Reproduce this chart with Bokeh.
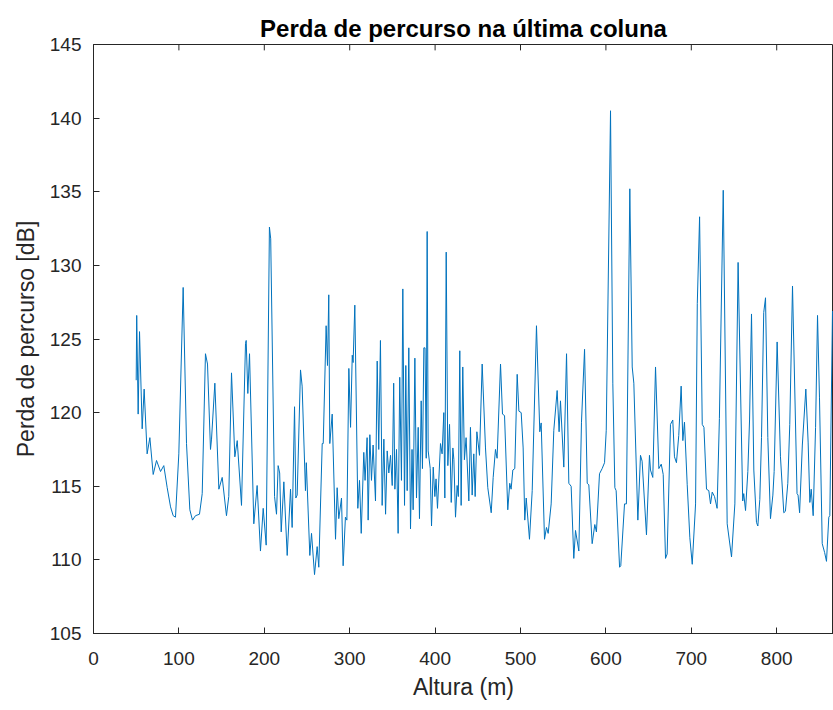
from bokeh.plotting import figure
from bokeh.models import Range1d, FixedTicker, Title
from bokeh.embed import file_html
from bokeh.resources import INLINE

altura = [50, 50.6, 52.3, 53.9, 57, 59.3, 62.8, 66, 69.9, 73.8, 78.5, 82.3, 86.3, 90.2, 93.3, 96,
          99.9, 105, 108.9, 112.8, 115.9, 119.4, 124.1, 127.3, 131.1, 133.5, 137, 138.2, 142.1, 146.8,
          150.7, 155.7, 158.4, 161.6, 165.5, 168.3, 173.3, 178, 178.8, 180.7, 182.7, 187.7, 191.6, 195.5,
          198.7, 202.2, 206, 207.5, 212, 214.3, 216.2, 218, 219.8, 222.9, 226.8, 230.7, 232.6, 235.4,
          236.9, 238.5, 242.4, 244.3, 248.2, 249.2, 253.3, 255.3, 258.8, 261.9, 263.8, 267.8, 269,
          272.4, 274, 275.5, 276.7, 279.5, 283.4, 285.3, 287.2, 290.4, 292.3, 295, 296.7, 299, 301, 303,
          304, 306, 309.5, 311.5, 313.5, 316.5, 318, 320.4, 321.6, 323.6, 325.5, 327.4, 330.2, 332.2,
          334, 336, 338, 340, 342, 343.9, 345.8, 347.8, 349.8, 351.5, 352.9, 354.8, 356.7, 358.6, 360.6,
          362.2, 364.2, 365.7, 367.3, 369.2, 371.2, 373, 374.3, 376.3, 378.2, 380.2, 381.7, 383.7, 385.2,
          386.8, 388.2, 389.6, 390.7, 391.9, 394.3, 395.8, 397.8, 399.7, 401.1, 402.8, 406.3, 408.2,
          410.2, 411.4, 413, 414.9, 416.9, 418.9, 420.8, 422, 423.9, 425.8, 427.2, 428.9, 430.5, 432.4,
          434.3, 436.3, 439.5, 441.4, 443.4, 445.3, 446.9, 448.9, 452, 455.1, 459, 461.7, 465.7, 468,
          470.7, 472.6, 476.6, 478.9, 481.3, 485.1, 487.4, 489, 491, 493.3, 496.1, 498.1, 500.8, 503.1,
          505, 506.7, 510.5, 513.7, 518.7, 522.6, 524.2, 528.1, 530.4, 532.4, 535.9, 539, 542.9, 545.2,
          546.8, 550.7, 553.9, 556.6, 559.3, 562.4, 564.4, 568.3, 571.4, 575, 578.1, 580, 583.9, 587,
          588.9, 592.5, 595.6, 598.4, 600.4, 605.4, 608.1, 610.5, 612, 616, 617.4, 621.8, 624, 628,
          630.8, 632.7, 637.4, 640.5, 642.4, 647.5, 651, 652.2, 654.9, 658.1, 662, 664.8, 667.1, 669.8,
          671.7, 675.6, 678.3, 680.3, 682.6, 685.3, 688.1, 690.1, 692, 695.2, 698.3, 701.1, 705, 707,
          709.7, 712.8, 714.8, 717.8, 720.5, 722.5, 724.5, 727.2, 730.2, 732.9, 737.4, 742, 747.1, 751,
          754.8, 760.2, 761.4, 763.5, 766.2, 768.2, 770.5, 773.2, 776.3, 777.9, 780.2, 782.2, 784.8,
          786.9, 789.6, 792.7, 795.5, 797, 800.5, 804.4, 808.3, 810.2, 813, 815.3, 818.5, 823.8, 825,
          826.8, 830, 834.1, 836.8, 838.8, 840.4, 842.7, 845.5, 847.8, 850.1, 853.3, 856.1, 858.3, 861,
          862.2, 865.3]

perda = [122.2, 126.6, 119.9, 125.5, 118.9, 121.6, 117.2, 118.3, 115.8, 116.75, 116.0, 116.4, 114.9,
         113.6, 113.0, 112.9, 117.2, 128.5, 117.9, 113.4, 112.7, 113.0, 113.1, 114.5, 124.0, 123.3,
         117.5, 118.2, 122.0, 114.8, 115.6, 113.0, 114.3, 122.7, 117.0, 118.1, 113.7, 124.7, 124.9,
         121.3, 124.0, 112.45, 115.05, 110.6, 113.5, 111.0, 132.6, 131.8, 114.3, 113.1, 116.4, 115.9,
         111.9, 115.3, 110.3, 114.8, 112.2, 120.4, 114.2, 114.4, 122.9, 121.8, 114.7, 116.6, 110.3,
         111.8, 109.0, 110.9, 109.5, 117.9, 117.9, 125.9, 123.2, 128.0, 117.9, 119.9, 111.4, 114.9,
         112.8, 114.2, 109.6, 112.9, 112.7, 123.0, 119.0, 123.9, 123.4, 127.3, 113.5, 115.4, 111.8,
         117.3, 115.4, 118.3, 112.7, 118.5, 115.4, 117.8, 114.0, 123.5, 117.5, 124.9, 113.7, 118.2,
         113.1, 117.4, 115.9, 117.1, 115.05, 122.0, 114.8, 117.5, 111.8, 122.4, 115.4, 128.4, 113.7,
         123.2, 114.7, 124.4, 112.1, 117.5, 113.4, 123.7, 114.2, 119.0, 112.8, 120.8, 116.2, 124.4,
         124.4, 116.9, 132.3, 117.4, 116.2, 112.3, 116.3, 114.3, 115.5, 113.5, 117.9, 117.2, 120.0,
         114.2, 130.9, 116.4, 119.2, 113.9, 117.6, 116.8, 112.9, 115.05, 114.3, 124.2, 113.7, 123.1,
         116.8, 118.3, 114.0, 119.0, 114.4, 117.2, 114.3, 118.7, 117.1, 123.3, 117.6, 114.9, 113.2,
         115.6, 117.5, 116.9, 123.3, 119.9, 119.8, 113.4, 115.2, 114.8, 116.1, 116.2, 122.6, 120.1,
         120.0, 117.6, 112.7, 114.2, 111.4, 114.7, 125.9, 118.7, 119.3, 111.4, 112.2, 111.8, 113.8,
         118.8, 121.5, 118.7, 120.8, 116.3, 124.0, 115.2, 115.0, 110.1, 112.0, 110.6, 119.35, 124.3,
         115.2, 115.1, 111.1, 112.4, 111.9, 115.85, 116.2, 116.6, 118.8, 140.5, 122.0, 114.9, 114.7,
         109.5, 109.6, 113.8, 113.8, 135.2, 123.1, 122.0, 112.7, 117.1, 116.7, 111.7, 117.1, 116.1,
         115.6, 123.1, 116.2, 116.5, 115.8, 110.1, 110.4, 119.2, 119.5, 117.0, 116.6, 118.45, 121.8,
         118.1, 119.35, 115.1, 111.5, 109.7, 113.8, 127.4, 133.3, 119.2, 119.0, 114.8, 114.7, 113.8,
         114.6, 114.3, 113.5, 119.6, 135.1, 112.45, 110.2, 113.8, 130.2, 114.0, 114.5, 113.35, 116.0,
         119.5, 126.7, 116.1, 112.55, 112.3, 114.1, 118.3, 126.8, 127.8, 118.3, 112.8, 114.4, 116.0,
         124.8, 117.0, 113.2, 113.3, 115.2, 119.2, 128.6, 114.5, 114.4, 113.2, 117.8, 121.6, 118.0,
         113.9, 114.8, 113.0, 119.0, 126.6, 121.0, 111.1, 110.5, 109.9, 112.9, 113.0, 126.9]

x_ticks = [0, 100, 200, 300, 400, 500, 600, 700, 800]
y_ticks = [105, 110, 115, 120, 125, 130, 135, 140, 145]
y_top = 145

FONT = "Liberation Sans"
AX = "#262626"

p = figure(width=833, height=710, output_backend="svg", toolbar_location=None,
           x_range=Range1d(0, 866.5), y_range=Range1d(105, y_top),
           min_border_left=93, min_border_right=0, min_border_top=44, min_border_bottom=77,
           background_fill_color="white", border_fill_color="white")
p.add_layout(Title(text="Perda de percurso na última coluna", align="center",
                   text_font=FONT, text_font_size="24px", text_font_style="bold",
                   text_color="black", standoff=5), "above")

p.xgrid.visible = False
p.ygrid.visible = False
p.outline_line_color = AX
p.outline_line_width = 1

p.line(altura, perda, line_color="#0072BD", line_width=1)

# inward tick marks on the top edge of the box, at the x tick values
p.segment(x0=x_ticks, y0=[y_top] * len(x_ticks), x1=x_ticks,
          y1=[y_top - 0.4] * len(x_ticks), line_color=AX, line_width=1)

for ax in (p.xaxis[0], p.yaxis[0]):
    ax.major_tick_in = 6
    ax.major_tick_out = 0
    ax.minor_tick_in = 0
    ax.minor_tick_out = 0
    ax.axis_line_color = AX
    ax.major_tick_line_color = AX
    ax.major_label_text_color = AX
    ax.major_label_text_font = FONT
    ax.major_label_text_font_size = "19px"
    ax.axis_label_text_font = FONT
    ax.axis_label_text_font_size = "23px"
    ax.axis_label_text_font_style = "normal"
    ax.axis_label_text_color = AX

p.xaxis[0].ticker = FixedTicker(ticks=x_ticks)
p.yaxis[0].ticker = FixedTicker(ticks=y_ticks)
p.xaxis[0].axis_label = "Altura (m)"
p.yaxis[0].axis_label = "Perda de percurso [dB]"
p.xaxis[0].major_label_standoff = 18
p.yaxis[0].major_label_standoff = 12
p.xaxis[0].axis_label_standoff = 6
p.yaxis[0].axis_label_standoff = 8

open("out.html", "w").write(file_html(p, INLINE))
